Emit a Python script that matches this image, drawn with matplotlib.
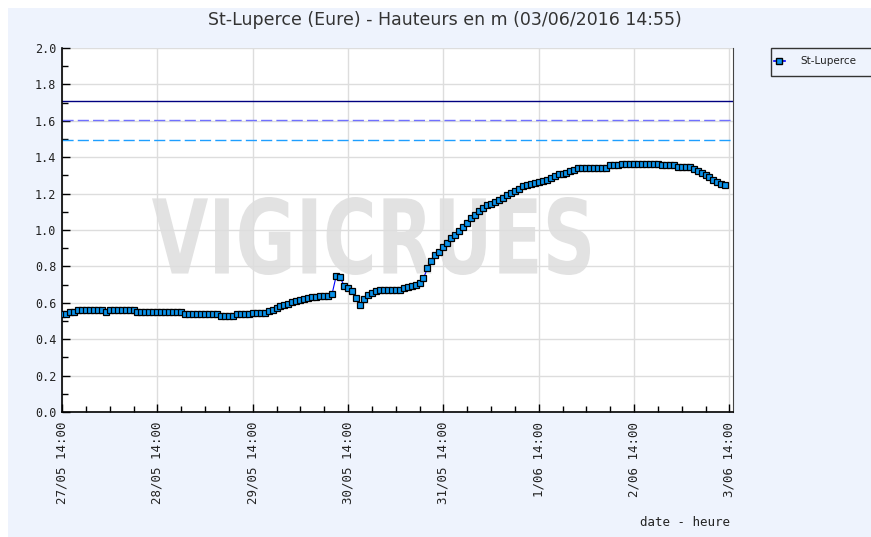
import datetime as dt
import matplotlib
matplotlib.use("Agg")
import matplotlib.pyplot as plt
import matplotlib.dates as mdates
from matplotlib.patches import Rectangle, PathPatch
from matplotlib.textpath import TextPath
from matplotlib.font_manager import FontProperties
from matplotlib.transforms import Affine2D
from matplotlib.lines import Line2D

# hourly water levels (m), starting 27/05/2016 14:00
day1 = [0.54, 0.54, 0.55, 0.55, 0.56, 0.56, 0.56, 0.56, 0.56, 0.56, 0.56, 0.55,
        0.56, 0.56, 0.56, 0.56, 0.56, 0.56, 0.56, 0.55, 0.55, 0.55, 0.55, 0.55]
day2 = [0.55, 0.55, 0.55, 0.55, 0.55, 0.55, 0.55, 0.54, 0.54, 0.54, 0.54, 0.54,
        0.54, 0.54, 0.54, 0.54, 0.53, 0.53, 0.53, 0.53, 0.54, 0.54, 0.54, 0.54]
day3 = [0.545, 0.545, 0.545, 0.545, 0.555, 0.56, 0.57, 0.58, 0.59, 0.595, 0.605, 0.61,
        0.615, 0.62, 0.625, 0.63, 0.63, 0.635, 0.635, 0.635, 0.65, 0.745, 0.74, 0.695]
day4 = [0.68, 0.667, 0.625, 0.588, 0.619, 0.643, 0.656, 0.665, 0.67, 0.67, 0.67, 0.67,
        0.67, 0.67, 0.68, 0.685, 0.69, 0.70, 0.71, 0.735, 0.79, 0.83, 0.86, 0.88]
day5 = [0.905, 0.93, 0.955, 0.975, 0.995, 1.015, 1.04, 1.065, 1.085, 1.105, 1.12, 1.135,
        1.145, 1.155, 1.165, 1.175, 1.19, 1.205, 1.215, 1.225, 1.24, 1.25, 1.255, 1.26]
day6 = [1.265, 1.27, 1.275, 1.285, 1.295, 1.305, 1.31, 1.315, 1.325, 1.33, 1.34, 1.34,
        1.34, 1.34, 1.34, 1.34, 1.34, 1.34, 1.355, 1.355, 1.355, 1.365, 1.365, 1.365]
day7 = [1.365, 1.365, 1.365, 1.365, 1.365, 1.365, 1.365, 1.355, 1.355, 1.355, 1.355, 1.345,
        1.345, 1.345, 1.345, 1.335, 1.325, 1.315, 1.30, 1.29, 1.275, 1.265, 1.255, 1.25]
heights = day1 + day2 + day3 + day4 + day5 + day6 + day7

start = dt.datetime(2016, 5, 27, 14, 0)
end = dt.datetime(2016, 6, 3, 14, 55)
times = [start + dt.timedelta(hours=i) for i in range(len(heights))]

# alert thresholds (m)
seuils = [1.71, 1.605, 1.495]
seuil_styles = [("#000080", "-"), ("#7070ff", (0, (8, 3))), ("#1e9fff", (0, (8, 3)))]

tick_labels = ["27/05 14:00", "28/05 14:00", "29/05 14:00", "30/05 14:00",
               "31/05 14:00", "1/06 14:00", "2/06 14:00", "3/06 14:00"]

W, H = 871, 537
fig = plt.figure(figsize=(W / 100, H / 100), dpi=100, facecolor="white")
fig.add_artist(Rectangle((8 / W, 0), 1, 1 - 8 / H, transform=fig.transFigure,
                         facecolor="#eef3fd", edgecolor="none", zorder=-10))

ax = fig.add_axes([62 / W, 1 - 412 / H, 671 / W, 364 / H])
ax.set_axisbelow(True)

# watermark
tp = TextPath((0, 0), "VIGICRUES", size=100,
              prop=FontProperties(family="DejaVu Sans", weight="bold"))
bb = tp.get_extents()
x0, x1, y0, y1 = 152, 590, H - 275, H - 197
wm = Affine2D().translate(-bb.x0, -bb.y0).scale((x1 - x0) / bb.width,
                                                 (y1 - y0) / bb.height).translate(x0, y0)
ax.add_patch(PathPatch(tp, transform=wm, facecolor="#e2e2e2", edgecolor="none", zorder=0.2))

for s, (c, ls) in zip(seuils, seuil_styles):
    ax.axhline(s, color=c, linestyle=ls, linewidth=1, zorder=1.5)

ax.plot(times, heights, color="#0000ff", linewidth=0.8, marker="s", markersize=4.4,
        markerfacecolor="#0a92ea", markeredgecolor="black", markeredgewidth=0.9, zorder=3)

ax.set_ylim(0, 2.0)
ax.set_xlim(start, end)
ax.set_yticks([i / 10 for i in range(0, 21, 2)])
ax.set_yticks([i / 10 for i in range(1, 20, 2)], minor=True)
ax.set_yticklabels([f"{i / 10:.1f}" for i in range(0, 21, 2)], family="DejaVu Sans Mono",
                   fontsize=8.5, color="#222222")

major_x = [start + dt.timedelta(days=d) for d in range(8)]
ax.set_xticks(major_x)
ax.set_xticklabels(tick_labels, rotation=90, family="DejaVu Sans Mono", fontsize=9,
                   color="#222222")
ax.xaxis.set_minor_locator(mdates.HourLocator(byhour=[2, 8, 20]))
ax.tick_params(axis="both", which="major", direction="in", length=6, width=1, pad=4)
ax.tick_params(axis="both", which="minor", direction="in", length=4, width=1)
ax.tick_params(axis="x", which="major", pad=7)

ax.grid(True, which="major", color="#dddddd", linewidth=1)
ax.spines["top"].set_visible(False)
ax.spines["right"].set_color("#444444")
ax.spines["left"].set_linewidth(1.2)
ax.spines["bottom"].set_linewidth(1.2)

fig.text(445 / W, 1 - 20 / H, "St-Luperce (Eure) - Hauteurs en m (03/06/2016 14:55)",
         ha="center", va="center", fontsize=12.5, color="#333333")
fig.text(730 / W, 1 - 522 / H, "date - heure", ha="right", va="center",
         family="DejaVu Sans Mono", fontsize=9, color="#222222")

# legend box (runs off the right edge, as in the original)
fig.add_artist(Rectangle((771 / W, 1 - 76 / H), 120 / W, 28 / H, transform=fig.transFigure,
                         facecolor="#eef3fd", edgecolor="#333333", linewidth=1, zorder=4))
fig.add_artist(Line2D([774 / W, 779 / W, 785 / W], [1 - 61 / H] * 3,
                      transform=fig.transFigure, color="#0000ff", linewidth=1.2,
                      marker="s", markersize=4.5, markevery=[1],
                      markerfacecolor="#0a92ea", markeredgecolor="black", zorder=5))
fig.text(800 / W, 1 - 61 / H, "St-Luperce", ha="left", va="center", fontsize=7.5,
         color="#222222", zorder=5)

fig.savefig("out.png", dpi=100)
